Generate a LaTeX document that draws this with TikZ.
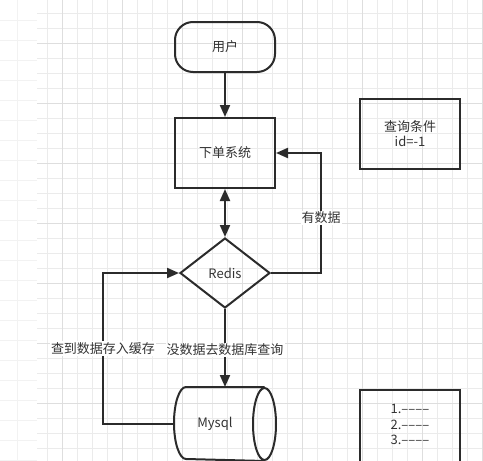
\documentclass[tikz,border=0pt]{standalone}
\usepackage{fontspec}
\setmainfont{Noto Sans CJK SC}
\usepackage{tikz}
\usetikzlibrary{arrows.meta}
\usetikzlibrary{shapes.geometric}
\usetikzlibrary{positioning}
\definecolor{gridfaint}{HTML}{F2F2F2}
\definecolor{gridminor}{HTML}{EBEBEB}
\definecolor{gridmajor}{HTML}{DEDEDE}
\definecolor{ink}{HTML}{2B2B2B}
\definecolor{txt}{HTML}{333333}
\tikzset{
    startbox/.style={draw=ink, rounded corners=18pt, minimum width=100pt,
        minimum height=50pt, text=txt},
    procbox/.style={draw=ink, minimum width=100pt, minimum height=70pt,
        text=txt, align=center},
    decbox/.style={draw=ink, diamond, aspect=1.29, minimum width=90pt,
        minimum height=70pt, inner sep=0pt, text=txt},
    dbbox/.style={minimum width=100pt, minimum height=72pt, inner sep=0pt},
    flow/.style={draw=ink, -{Triangle[length=12pt,width=10pt]}},
    flowboth/.style={draw=ink, {Triangle[length=12pt,width=10pt]}-{Triangle[length=12pt,width=10pt]}},
    lbl/.style={fill=white, text=txt, inner sep=1pt},
}

\begin{document}
\begin{tikzpicture}[x=1pt, y=-1pt, line width=2pt, font=\fontsize{13}{15}\selectfont]
\clip (0,0) rectangle (483,461);
\fill[white] (0,0) rectangle (483,461);

% grid
\foreach \y in {20,40,...,460}
    \draw[gridfaint, line width=0.8pt] (0,\y) -- (37,\y);
\draw[gridfaint, line width=0.8pt] (17,0) -- (17,461);
\foreach \x in {47,62,...,482}
    \draw[gridminor, line width=0.8pt] (\x,0) -- (\x,461);
\foreach \y in {13,28,...,460}
    \draw[gridminor, line width=0.8pt] (37,\y) -- (483,\y);
\foreach \x in {62,122,...,482}
    \draw[gridmajor, line width=0.8pt] (\x,0) -- (\x,461);
\foreach \y in {43,103,...,460}
    \draw[gridmajor, line width=0.8pt] (37,\y) -- (483,\y);

% flow
\node[startbox] (user) at (225,47) {用户};
\node[procbox] (order) at (225,153) {下单系统};
\node[decbox] (redis) at (225,273) {Redis};
\node[dbbox] (mysql) at (225,424) {};

% mysql drum
\draw[ink] ([xshift=-11.5pt]mysql.north east) -- ([xshift=12pt]mysql.north west)
    arc[start angle=270, end angle=90, x radius=12, y radius=36]
    -- ([xshift=-11.5pt]mysql.south east);
\draw[ink] ([xshift=-11.5pt]mysql.east) ellipse[x radius=11.5, y radius=36];
\node[text=txt] (mysqltext) at ([xshift=-10pt]mysql.center) {Mysql};

\draw[flow] (user) -- (order);
\draw[flowboth] (order) -- (redis);
\draw[flow] (redis.east) -- ++(50,0) |- (order.east)
    node[pos=0.23, lbl] {有数据};
\draw[flow] (redis.south) -- (mysql.north)
    node[midway, lbl, yshift=-2pt] {没数据去数据库查询};
\draw[flow] (mysql.west) -- ++(-71,0) |- (redis.west)
    node[pos=0.25, lbl] {查到数据存入缓存};

% side notes
\node[procbox] (cond) at (410,133.5) {查询条件\\id=-1};
\node[draw=ink, minimum width=100pt, minimum height=90pt, anchor=north]
    (notes) at (410,389) {};
\node[text=txt, align=left, font=\fontsize{13}{15.5}\selectfont]
    (notelist) at (410,424.5) {1.––––\\2.––––\\3.––––};
\end{tikzpicture}
\end{document}
